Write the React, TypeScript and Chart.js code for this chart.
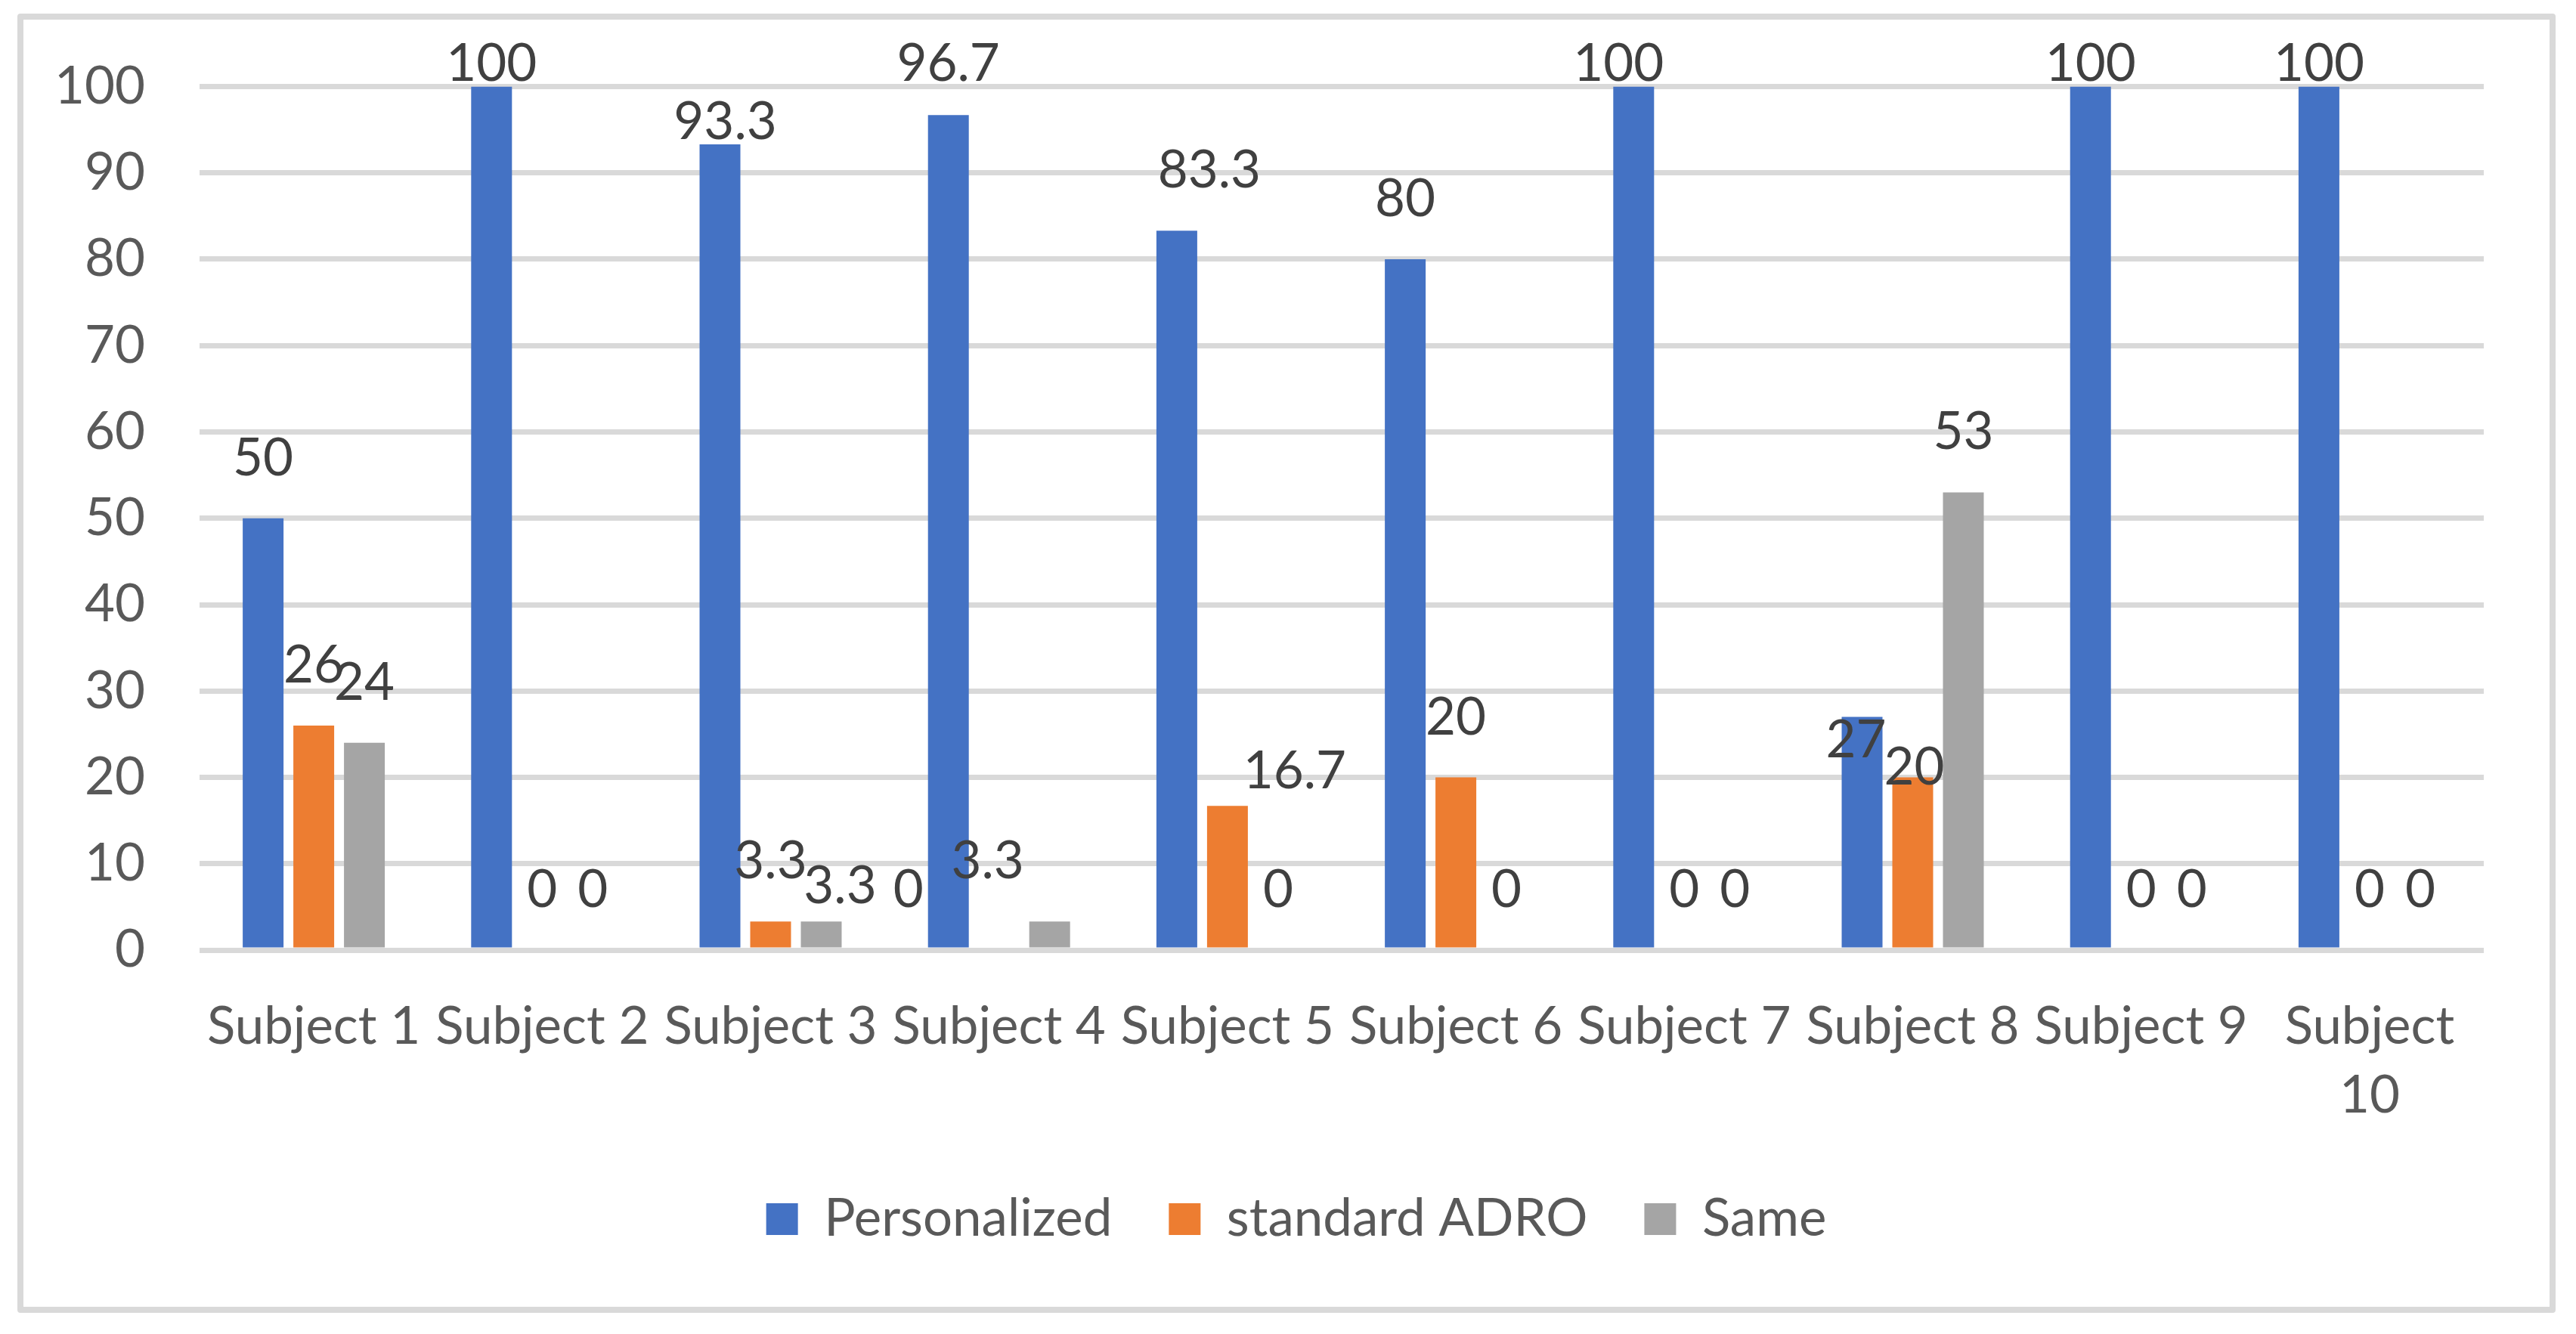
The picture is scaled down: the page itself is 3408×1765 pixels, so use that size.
import React, { useEffect, useRef } from "react";
import { Chart, registerables } from "chart.js";

Chart.register(...registerables);

const categories = [
  "Subject 1", "Subject 2", "Subject 3", "Subject 4", "Subject 5",
  "Subject 6", "Subject 7", "Subject 8", "Subject 9", "Subject 10",
];
const seriesNames = ["Personalized", "standard ADRO", "Same"];
const personalized = [50, 100, 93.3, 96.7, 83.3, 80, 100, 27, 100, 100];
const standardADRO = [26, 0, 3.3, 0, 16.7, 20, 0, 20, 0, 0];
const same = [24, 0, 3.3, 3.3, 0, 0, 0, 53, 0, 0];
const yMin = 0;
const yMax = 100;
const yStep = 10;

const W = 3408;
const H = 1765;
const FONT = "Lato, 'Open Sans', sans-serif";
const FS = 69;
const LEGEND_PAD = 75;

// manual nudges of individual data labels (dataset:index -> [dx, dy])
const labelNudges: Record<string, [number, number]> = {
  "0:2": [7, 50],
  "2:2": [25, 33],
  "1:3": [-120, 0],
  "2:3": [-82, 0],
  "0:4": [43, 0],
  "1:4": [89, 34],
  "0:6": [-20, 0],
  "0:7": [-8, 110],
  "1:7": [2, 66],
};

const framePlugin = {
  id: "frame",
  beforeDraw(chart: any) {
    const { ctx } = chart;
    ctx.save();
    ctx.fillStyle = "#ffffff";
    ctx.fillRect(0, 0, chart.width, chart.height);
    ctx.strokeStyle = "#D9D9D9";
    ctx.lineWidth = 8;
    ctx.lineJoin = "round";
    ctx.strokeRect(27, 22, 3350, 1711);
    ctx.restore();
  },
};

// centre the legend under the whole frame rather than under the padded box
const legendShiftPlugin = {
  id: "legendShift",
  afterLayout(chart: any) {
    const lg = chart.legend;
    if (lg) {
      lg.left += 72;
      lg.right += 72;
    }
  },
};

const valueLabelPlugin = {
  id: "valueLabels",
  afterDatasetsDraw(chart: any) {
    const { ctx } = chart;
    ctx.save();
    ctx.font = `${FS}px ${FONT}`;
    ctx.fillStyle = "#404040";
    ctx.textAlign = "center";
    ctx.textBaseline = "alphabetic";
    chart.data.datasets.forEach((ds: any, di: number) => {
      const meta = chart.getDatasetMeta(di);
      meta.data.forEach((bar: any, i: number) => {
        const v = ds.data[i];
        let x = bar.x;
        let y = bar.y - 57;
        if (y < 107) y = 107;
        const n = labelNudges[`${di}:${i}`];
        if (n) {
          x += n[0];
          y += n[1];
        }
        ctx.fillText(String(v), x, y);
      });
    });
    ctx.restore();
  },
};

export default function App() {
  const ref = useRef<HTMLCanvasElement | null>(null);

  useEffect(() => {
    document.body.style.margin = "0";
    const canvas = ref.current;
    if (!canvas) return;
    const chart = new Chart(canvas, {
      type: "bar",
      data: {
        labels: categories,
        datasets: [
          { label: seriesNames[0], data: personalized, backgroundColor: "#4472C4" },
          { label: seriesNames[1], data: standardADRO, backgroundColor: "#ED7D31" },
          { label: seriesNames[2], data: same, backgroundColor: "#A5A5A5" },
        ],
      },
      options: {
        animation: false,
        responsive: false,
        devicePixelRatio: 1,
        layout: { padding: { left: 0, right: 122, top: 114.5, bottom: 107.5 } },
        datasets: {
          bar: { categoryPercentage: 0.665, barPercentage: 0.806 },
        },
        plugins: {
          tooltip: { enabled: false },
          title: { display: false },
          legend: {
            display: true,
            position: "bottom",
            labels: {
              boxWidth: 42,
              boxHeight: 42,
              padding: LEGEND_PAD,
              color: "#595959",
              font: { family: FONT, size: FS },
            },
          },
        },
        scales: {
          x: {
            grid: { display: false },
            border: { display: false },
            ticks: {
              color: "#595959",
              padding: 48,
              maxRotation: 0,
              autoSkip: false,
              font: { family: FONT, size: FS, lineHeight: 91 / FS },
              callback: function (this: any, value: any) {
                const label = this.getLabelForValue(value) as string;
                return label.length > 9 ? label.split(" ") : label;
              },
            },
            afterFit: (scale: any) => {
              scale.height = 229.5 + (92 - LEGEND_PAD);
            },
          },
          y: {
            min: yMin,
            max: yMax,
            grid: { color: "#D9D9D9", lineWidth: 7, drawTicks: false },
            border: { display: false },
            ticks: {
              stepSize: yStep,
              color: "#595959",
              padding: 72,
              font: { family: FONT, size: FS },
            },
            afterFit: (scale: any) => {
              scale.width = 264;
            },
          },
        },
      },
      plugins: [framePlugin, legendShiftPlugin, valueLabelPlugin],
    });
    return () => chart.destroy();
  }, []);

  return (
    <div style={{ position: "absolute", left: 0, top: 0, width: W, height: H, background: "#fff" }}>
      <canvas ref={ref} width={W} height={H} style={{ display: "block", width: W, height: H }} />
    </div>
  );
}
